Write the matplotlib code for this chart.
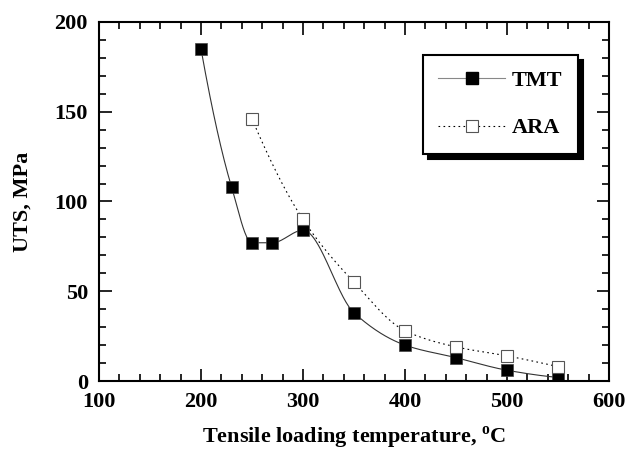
import matplotlib
matplotlib.use('Agg')
import matplotlib.pyplot as plt
from matplotlib.ticker import MultipleLocator
import numpy as np

plt.rcParams['font.family'] = ['Liberation Serif', 'DejaVu Serif']
plt.rcParams['font.weight'] = 'bold'
plt.rcParams['axes.labelweight'] = 'bold'
plt.rcParams['mathtext.fontset'] = 'custom'
plt.rcParams['mathtext.rm'] = 'Liberation Serif:bold'
plt.rcParams['mathtext.bf'] = 'Liberation Serif:bold'

tmt_temp = [200, 230, 250, 270, 300, 350, 400, 450, 500, 550]
tmt_uts = [185, 108, 77, 77, 84, 38, 20, 13, 6, 2]
ara_temp = [250, 300, 350, 400, 450, 500, 550]
ara_uts = [146, 90, 55, 28, 19, 14, 8]


def smooth(x, y, n=400):
    # shape-preserving cubic (pchip) through the points, only for the drawn curve
    x = np.asarray(x, float)
    y = np.asarray(y, float)
    h = np.diff(x)
    delta = np.diff(y) / h
    k = len(x)
    d = np.zeros(k)
    for i in range(1, k - 1):
        if delta[i - 1] * delta[i] > 0:
            w1 = 2 * h[i] + h[i - 1]
            w2 = h[i] + 2 * h[i - 1]
            d[i] = (w1 + w2) / (w1 / delta[i - 1] + w2 / delta[i])
    d[0] = ((2 * h[0] + h[1]) * delta[0] - h[0] * delta[1]) / (h[0] + h[1])
    if np.sign(d[0]) != np.sign(delta[0]):
        d[0] = 0
    d[-1] = ((2 * h[-1] + h[-2]) * delta[-1] - h[-1] * delta[-2]) / (h[-1] + h[-2])
    if np.sign(d[-1]) != np.sign(delta[-1]):
        d[-1] = 0
    xs = np.linspace(x[0], x[-1], n)
    idx = np.clip(np.searchsorted(x, xs) - 1, 0, k - 2)
    t = (xs - x[idx]) / h[idx]
    h00 = 2 * t ** 3 - 3 * t ** 2 + 1
    h10 = t ** 3 - 2 * t ** 2 + t
    h01 = -2 * t ** 3 + 3 * t ** 2
    h11 = t ** 3 - t ** 2
    ys = h00 * y[idx] + h10 * h[idx] * d[idx] + h01 * y[idx + 1] + h11 * h[idx] * d[idx + 1]
    return xs, ys


fig = plt.figure(figsize=(6.25, 4.66), dpi=100)
ax = fig.add_axes([0.1584, 0.1824, 0.816, 0.7704])

dots = (0, (1.5, 3))

sx, sy = smooth(tmt_temp, tmt_uts)
ax.plot(sx, sy, '-', color='#333333', lw=0.8)
ax.plot(tmt_temp, tmt_uts, 's', color='black', ms=9, mec='#444444', mew=0.5)
ax.plot([], [], '-s', color='#888888', lw=0.8, ms=9, mfc='black', mec='black', label='TMT')

sx, sy = smooth(ara_temp, ara_uts)
ax.plot(sx, sy, linestyle=dots, color='black', lw=0.8)
ax.plot(ara_temp, ara_uts, 's', mfc='white', mec='#555555', ms=8, mew=0.8)
ax.plot([], [], linestyle=dots, marker='s', color='black', lw=0.8, ms=8,
        mfc='white', mec='#555555', mew=0.8, label='ARA')

ax.set_xlim(100, 600)
ax.set_ylim(0, 200)
ax.xaxis.set_major_locator(MultipleLocator(100))
ax.xaxis.set_minor_locator(MultipleLocator(20))
ax.yaxis.set_major_locator(MultipleLocator(50))
ax.yaxis.set_minor_locator(MultipleLocator(10))
ax.tick_params(which='both', direction='in', top=True, right=True, width=1.2)
ax.tick_params(which='major', length=9, labelsize=16, pad=8)
ax.tick_params(which='minor', length=5)
for s in ax.spines.values():
    s.set_linewidth(1.5)

ax.set_xlabel('Tensile loading temperature, $^{\\mathrm{o}}$C', fontsize=16, labelpad=9)
ax.set_ylabel('UTS, MPa', fontsize=16, labelpad=16)

leg = ax.legend(loc='upper left', bbox_to_anchor=(0.635, 0.908), fancybox=False,
                shadow={'color': 'black', 'alpha': 1, 'ox': 3.6, 'oy': -3.6}, framealpha=1,
                edgecolor='black', fontsize=16, handlelength=3.0, borderpad=0.7,
                labelspacing=1.2, handletextpad=0.3, borderaxespad=0)
leg.get_frame().set_linewidth(1.5)

fig.savefig('out.png', dpi=100)
